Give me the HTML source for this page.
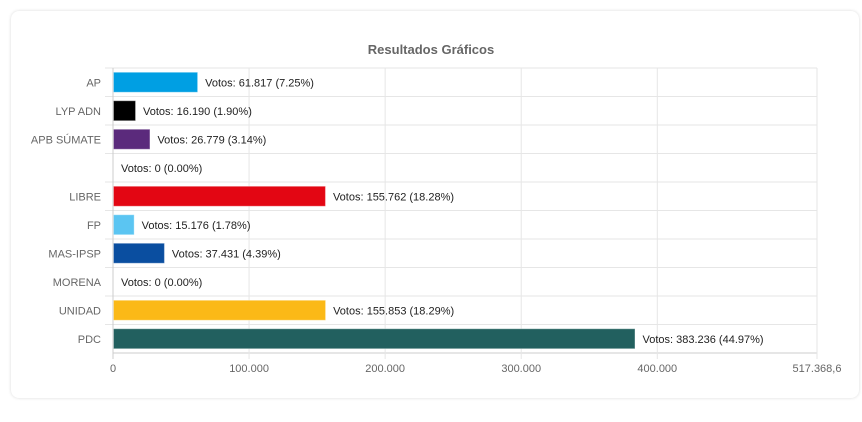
<!DOCTYPE html>
<html><head><meta charset="utf-8"><style>
body{margin:0;background:#fff;font-family:"Liberation Sans",sans-serif;}
#card{position:absolute;left:11px;top:11px;width:848px;height:387px;border-radius:8px;box-shadow:0 0 3px rgba(0,0,0,0.15);background:#fff;}
svg{position:absolute;left:0;top:0;}
</style></head><body>
<div id="card"></div>
<svg id="chart" width="862" height="422"></svg>
<script>
const categories=["AP","LYP ADN","APB SÚMATE","","LIBRE","FP","MAS-IPSP","MORENA","UNIDAD","PDC"];
const votes=[61817,16190,26779,0,155762,15176,37431,0,155853,383236];
const percents=["7.25","1.90","3.14","0.00","18.28","1.78","4.39","0.00","18.29","44.97"];
const colors=["#009fe3","#000000","#5b2a7c","#cccccc","#e30613","#5bc5f2","#0a4ea0","#cccccc","#fbb917","#22605f"];
const tickValues=[0,100000,200000,300000,400000,517368.6];
const tickLabels=["0","100.000","200.000","300.000","400.000","517.368,6"];
const xMax=517368.6;
const svg=document.getElementById('chart');const NS='http://www.w3.org/2000/svg';
const L=113,R=817,T=68,B=353,rowH=(B-T)/categories.length;
const x=v=>L+v/xMax*(R-L);
const y=i=>T+i*rowH;
function mk(t,a){const e=document.createElementNS(NS,t);for(const k in a)e.setAttribute(k,a[k]);svg.appendChild(e);return e;}
let t=mk('text',{x:431,y:54,'text-anchor':'middle','font-size':13,'font-weight':'bold',fill:'#666'});


t.textContent='Resultados Gráficos';
for(let i=0;i<=categories.length;i++){let g=mk('line',{x1:i==categories.length?L:L-8,x2:R,y1:y(i),y2:y(i),stroke:i==categories.length?'#ccc':'#e6e6e6'});

}
tickValues.forEach((v,j)=>{let g=mk('line',{x1:x(v),x2:x(v),y1:T,y2:B+6,stroke:j==0?'#ccc':'#e6e6e6'});


let tl=mk('text',{x:x(v),y:372,'text-anchor':'middle','font-size':11,fill:'#666'});


tl.textContent=tickLabels[j];});
categories.forEach((c,i)=>{const cy=y(i)+rowH/2;
let l=mk('text',{x:101,y:cy+4,'text-anchor':'end','font-size':11,fill:'#666'});


l.textContent=c;
const w=x(votes[i])-L;
if(w>0){let b=mk('rect',{x:L+0.5,y:cy-10,width:w,height:20,fill:colors[i],stroke:'rgba(255,255,255,0.35)','stroke-width':1});

}
let v=mk('text',{x:x(votes[i])+8,y:cy+4,'font-size':11,fill:'#222'});


v.textContent='Votos: '+votes[i].toLocaleString('de-DE')+' ('+percents[i]+'%)';});
</script></body></html>
